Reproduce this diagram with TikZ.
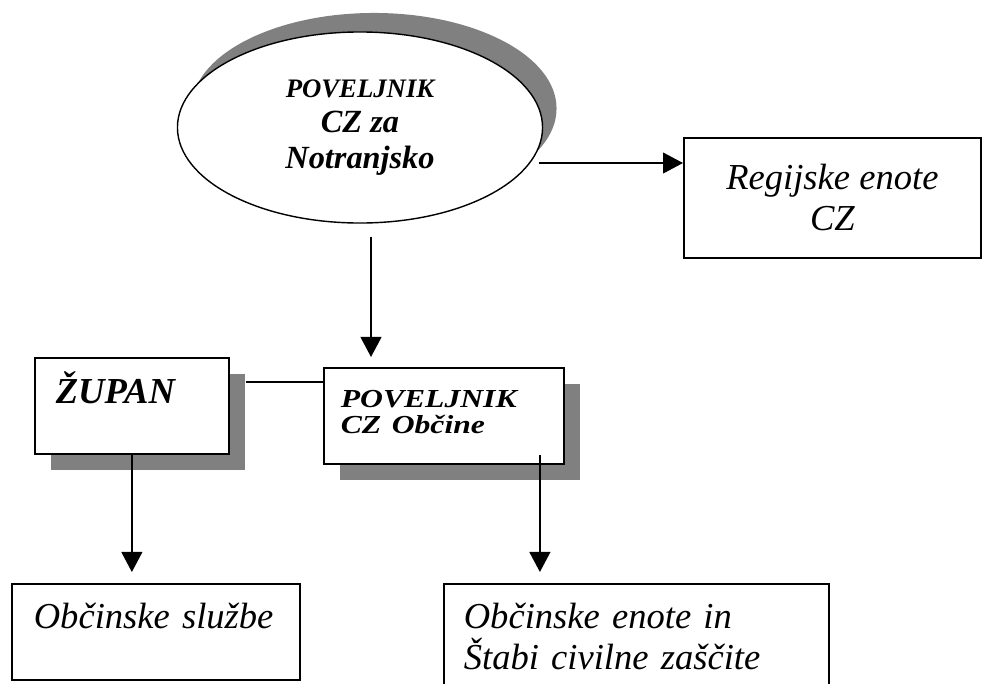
\documentclass[tikz,border=0pt]{standalone}
\usepackage{graphicx}
\usepackage{fontspec}
\setmainfont{Liberation Serif}
\usetikzlibrary{positioning,shapes.geometric,shadows,arrows.meta}
\newcommand{\squeezed}[1]{\scalebox{1}[0.82]{#1}}
\tikzset{%
  every unit/.style={
    draw,
    fill=white,
    line width=1.2pt,
    inner ysep=0pt,
    anchor=north west,
    align=left
  },
  unit shadow/.style={
    drop shadow={shadow xshift=0.4cm, shadow yshift=-0.4cm, fill=gray, opacity=1}
  },
  unit bold/.style={
    font=\bfseries\itshape\fontsize{26pt}{30pt}\selectfont
  },
  unit plain/.style={
    font=\itshape\fontsize{26pt}{29pt}\selectfont
  },
  chief/.style={
    ellipse,
    draw,
    fill=white,
    line width=1pt,
    inner sep=0pt,
    minimum width=9.125cm,
    minimum height=4.775cm,
    align=center,
    font=\bfseries\itshape\fontsize{23pt}{25.5pt}\selectfont,
    drop shadow={shadow xshift=0.35cm, shadow yshift=0.475cm, fill=gray, opacity=1}
  },
  link/.style={
    line width=1.2pt
  },
}

\begin{document}
\begin{tikzpicture}[x=0.025cm, y=-0.025cm, >={Triangle[length=0.5cm, width=0.52cm]}]

\useasboundingbox (0,0) rectangle (982,684);

\node [chief] (chief) at (360,127.5)
  {{\fontsize{19pt}{25.5pt}\selectfont POVELJNIK}\\ CZ za\\ Notranjsko};

\node [every unit, unit plain, align=center, inner xsep=0pt,
  minimum width=7.425cm, minimum height=3cm] (regional) at (683,137)
  {Regijske enote\\ CZ};

\node [every unit, unit shadow, unit bold, text width=3.8cm, inner xsep=0.525cm,
  text height=1.15cm, text depth=1.25cm] (mayor) at (34,357) {ŽUPAN};

\node [every unit, unit shadow, unit bold, font=\bfseries\itshape\fontsize{22.5pt}{18.5pt}\selectfont,
  text width=5.15cm, inner xsep=0.425cm, text height=1cm, text depth=1.4cm] (local) at (323,367)
  {\squeezed{POVELJNIK}\\ \squeezed{CZ Občine}};

\node [every unit, unit plain, text width=6.1cm, inner xsep=0.55cm,
  text height=1.125cm, text depth=1.275cm] (services) at (11,583) {Občinske službe};

\node [every unit, unit plain, text width=8.625cm, inner xsep=0.5cm,
  text height=1.125cm, text depth=3cm] (units) at (443,583)
  {Občinske enote in\\ Štabi civilne zaščite};

\coordinate (chief-right) at ([xshift=-0.1cm, yshift=-0.8875cm]chief.east);
\draw [link, ->] (chief-right) -- (chief-right -| regional.west);

\coordinate (chief-down) at ([xshift=0.275cm, yshift=-0.325cm]chief.south);
\draw [link, ->, shorten >=0.25cm] (chief-down) -- (chief-down |- local.north);

\coordinate (mayor-right) at ([xshift=0.4cm, yshift=0.6cm]mayor.east);
\draw [link] (mayor-right) -- (mayor-right -| local.west);

\draw [link, ->, shorten >=0.275cm] (mayor.south) -- (mayor.south |- services.north);

\coordinate (local-down) at ([xshift=2.4cm, yshift=0.25cm]local.south);
\draw [link, ->, shorten >=0.275cm] (local-down) -- (local-down |- units.north);

\end{tikzpicture}
\end{document}
